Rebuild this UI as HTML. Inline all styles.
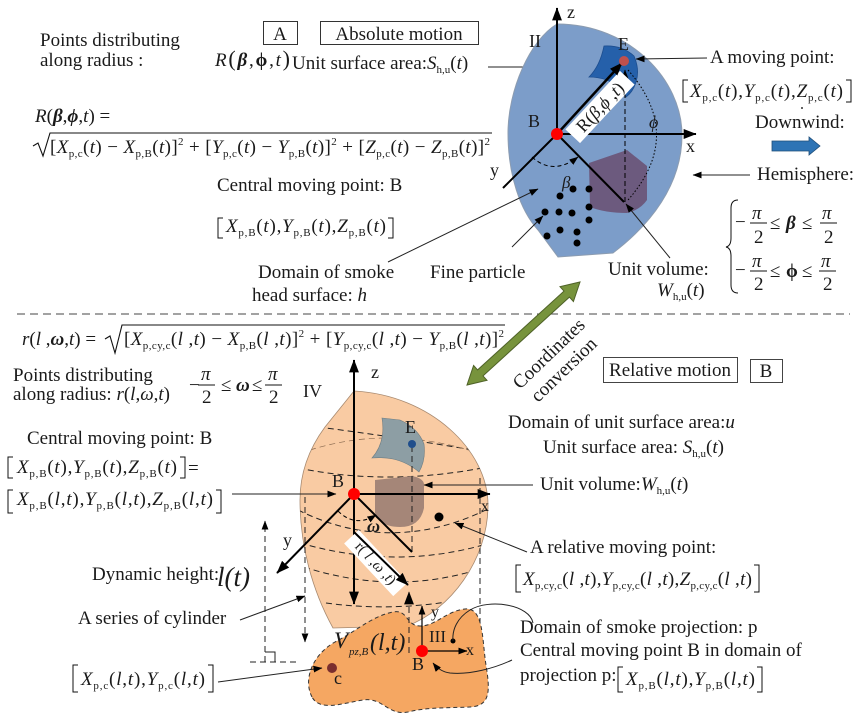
<!DOCTYPE html>
<html><head><meta charset="utf-8"><title>diagram</title>
<style>
html,body{margin:0;padding:0;background:#fff;width:857px;height:726px;overflow:hidden;}
svg{display:block;}
text{font-family:"Liberation Serif","DejaVu Serif",serif;fill:#1a1a1a;font-size:19px;}
.i{font-style:italic;}
.b{font-weight:bold;}
.s{font-size:11px;}
.ax{font-size:18px;}
</style></head><body>
<svg width="857" height="726" viewBox="0 0 857 726" xmlns="http://www.w3.org/2000/svg">
<defs>
<marker id="a" viewBox="0 0 10 10" refX="9.5" refY="5" markerWidth="9" markerHeight="9" markerUnits="userSpaceOnUse" orient="auto"><path d="M0,1.2 L10,5 L0,8.8 Z" fill="#000"/></marker>
<marker id="A" viewBox="0 0 10 10" refX="9.5" refY="5" markerWidth="13" markerHeight="13" markerUnits="userSpaceOnUse" orient="auto"><path d="M0,1.2 L10,5 L0,8.8 Z" fill="#000"/></marker>
<clipPath id="oc"><path d="M354,391 L325,427 C308,450 300,475 300,500 C300,545 312,590 333,628 L407,626 C450,610 488,560 488,505 C488,450 430,395 354,391 Z"/></clipPath>
</defs>

<!-- ============ TOP SECTION ============ -->
<text x="40" y="46">Points distributing</text>
<text x="40" y="66">along radius :</text>
<text x="215" y="66" textLength="75"><tspan class="i">R</tspan><tspan style="font-size:22px">(</tspan><tspan class="i b">β</tspan>,<tspan class="b">ϕ</tspan>,<tspan class="i">t</tspan><tspan style="font-size:22px">)</tspan></text>

<rect x="263.5" y="21.5" width="34" height="23" fill="none" stroke="#333"/>
<text x="280" y="40" text-anchor="middle">A</text>
<rect x="320.5" y="21.5" width="158" height="23" fill="none" stroke="#333"/>
<text x="399" y="40" text-anchor="middle">Absolute motion</text>

<text x="292" y="69">Unit surface area:<tspan class="i">S</tspan><tspan class="s" dy="4">h,u</tspan><tspan dy="-4">(</tspan><tspan class="i">t</tspan>)</text>
<line x1="488" y1="67" x2="577" y2="67" stroke="#222" stroke-width="1" marker-end="url(#a)"/>

<text x="35" y="122"><tspan class="i">R</tspan>(<tspan class="i b">β</tspan>,<tspan class="i b">ϕ</tspan>,<tspan class="i">t</tspan>) =</text>
<path d="M33,146 L38,143 L43,156 L50,133 L492,133" fill="none" stroke="#111" stroke-width="1.1"/>
<text x="50" y="153" textLength="440">[<tspan class="i">X</tspan><tspan class="s" dy="4">p,c</tspan><tspan dy="-4">(</tspan><tspan class="i">t</tspan>) − <tspan class="i">X</tspan><tspan class="s" dy="4">p,B</tspan><tspan dy="-4">(</tspan><tspan class="i">t</tspan>)]<tspan class="s" dy="-8">2</tspan><tspan dy="8"> + [</tspan><tspan class="i">Y</tspan><tspan class="s" dy="4">p,c</tspan><tspan dy="-4">(</tspan><tspan class="i">t</tspan>) − <tspan class="i">Y</tspan><tspan class="s" dy="4">p,B</tspan><tspan dy="-4">(</tspan><tspan class="i">t</tspan>)]<tspan class="s" dy="-8">2</tspan><tspan dy="8"> + [</tspan><tspan class="i">Z</tspan><tspan class="s" dy="4">p,c</tspan><tspan dy="-4">(</tspan><tspan class="i">t</tspan>) − <tspan class="i">Z</tspan><tspan class="s" dy="4">p,B</tspan><tspan dy="-4">(</tspan><tspan class="i">t</tspan>)]<tspan class="s" dy="-8">2</tspan></text>

<!-- hemisphere -->
<path d="M557,24 C530,40 508,90 508,133 C508,175 520,210 538,230 L558,257 L613,253 C650,225 682,185 682,135 C682,80 630,24 557,24 Z" fill="#7c9dc9" stroke="#8c9cb0" stroke-width="1"/>
<path d="M589,163 L627,150 L647,166 L647,200 Q640,210 627,213 Q605,213 590,207 Z" fill="#6c5a7e"/>
<path d="M604,46 Q622,45 634,56 Q640,70 636,82 Q633,92 626,97 Q620,86 607,80 Q598,77 589,77 Q600,66 604,46 Z" fill="#2560aa" stroke="#1d4e8f" stroke-width="0.8"/>
<g fill="#000">
<circle cx="560" cy="196" r="3.5"/><circle cx="573" cy="189" r="3.5"/><circle cx="589" cy="189" r="3.5"/>
<circle cx="545" cy="212" r="3.5"/><circle cx="559" cy="212" r="3.5"/><circle cx="572" cy="213" r="3.5"/>
<circle cx="589" cy="207" r="3.5"/><circle cx="589" cy="220" r="3.5"/><circle cx="560" cy="230" r="3.5"/>
<circle cx="577" cy="232" r="3.5"/><circle cx="547" cy="236" r="3.5"/><circle cx="577" cy="243" r="3.5"/>
</g>
<line x1="557" y1="134" x2="557" y2="8" stroke="#000" stroke-width="2" marker-end="url(#A)"/>
<line x1="557" y1="134" x2="696" y2="134" stroke="#000" stroke-width="2" marker-end="url(#A)"/>
<line x1="557" y1="134" x2="503" y2="188" stroke="#000" stroke-width="2"/>
<line x1="557" y1="134" x2="624" y2="202" stroke="#000" stroke-width="2"/>
<line x1="625" y1="202" x2="625" y2="70" stroke="#000" stroke-width="1" stroke-dasharray="5,3" marker-end="url(#a)"/>
<path d="M628,70 Q685,135 628,200" fill="none" stroke="#000" stroke-width="1" stroke-dasharray="1.5,2"/>
<path d="M532,157 Q553,176 578,157" fill="none" stroke="#000" stroke-width="1" stroke-dasharray="4,3" marker-end="url(#a)"/>
<g transform="translate(600,107) rotate(-47)"><rect x="-40" y="-10" width="80" height="20" fill="#fff"/><text x="0" y="6" text-anchor="middle" style="font-size:18px">R(<tspan class="i">β</tspan>,<tspan class="i">ϕ</tspan> ,<tspan class="i">t</tspan>)</text></g>
<line x1="557" y1="134" x2="622" y2="63" stroke="#000" stroke-width="2.5" marker-end="url(#A)"/>
<circle cx="624" cy="61" r="5" fill="#c0504d"/>
<circle cx="557" cy="134" r="6" fill="#ff0000"/>
<text x="528" y="127" class="ax">B</text>
<text x="686" y="152" class="ax">x</text>
<text x="490" y="176" class="ax">y</text>
<text x="567" y="18" class="ax">z</text>
<text x="618" y="50" class="ax">E</text>
<text x="529" y="47" class="ax">II</text>
<text x="562" y="188" class="i" style="font-size:17px">β</text>
<text x="649" y="128" class="i" style="font-size:18px">ϕ</text>

<!-- right side top -->
<text x="710" y="63">A moving point:</text>
<line x1="707" y1="58" x2="636" y2="59" stroke="#222" stroke-width="1" marker-end="url(#a)"/>
<path d="M688,80 L683,80 L683,102 L688,102" fill="none" stroke="#111" stroke-width="1"/>
<path d="M846,80 L851,80 L851,102 L846,102" fill="none" stroke="#111" stroke-width="1"/>
<text x="690" y="97" textLength="153"><tspan class="i">X</tspan><tspan class="s" dy="4">p,c</tspan><tspan dy="-4">(</tspan><tspan class="i">t</tspan>),<tspan class="i">Y</tspan><tspan class="s" dy="4">p,c</tspan><tspan dy="-4">(</tspan><tspan class="i">t</tspan>),<tspan class="i">Z</tspan><tspan class="s" dy="4">p,c</tspan><tspan dy="-4">(</tspan><tspan class="i">t</tspan>)</text>
<circle cx="802" cy="108" r="1" fill="#333"/>
<text x="755" y="128">Downwind:</text>
<polygon points="772,141 809,141 809,137 820,146 809,155 809,151 772,151" fill="#2e74b5" stroke="#1f4e79" stroke-width="0.8"/>
<text x="757" y="180">Hemisphere:</text>
<line x1="750" y1="175" x2="693" y2="175" stroke="#222" stroke-width="1" marker-end="url(#a)"/>

<path d="M738,200 Q731,200 731,208 L731,238 Q731,246 726,247 Q731,248 731,256 L731,285 Q731,293 738,293" fill="none" stroke="#111" stroke-width="1"/>
<text x="735" y="228">−</text>
<text x="752" y="219" class="i">π</text><line x1="750" y1="223" x2="767" y2="223" stroke="#111"/><text x="754" y="243">2</text>
<text x="770" y="229">≤</text>
<text x="786" y="229" class="i b">β</text>
<text x="802" y="229">≤</text>
<text x="822" y="219" class="i">π</text><line x1="820" y1="223" x2="837" y2="223" stroke="#111"/><text x="824" y="243">2</text>
<text x="735" y="276">−</text>
<text x="752" y="267" class="i">π</text><line x1="750" y1="271" x2="767" y2="271" stroke="#111"/><text x="754" y="290">2</text>
<text x="770" y="277">≤</text>
<text x="786" y="277" class="b">ϕ</text>
<text x="802" y="277">≤</text>
<text x="821" y="267" class="i">π</text><line x1="819" y1="271" x2="836" y2="271" stroke="#111"/><text x="823" y="290">2</text>

<!-- middle top labels -->
<text x="217" y="191">Central moving point: B</text>
<path d="M223,218 L218,218 L218,238 L223,238" fill="none" stroke="#111"/>
<path d="M388,218 L393,218 L393,238 L388,238" fill="none" stroke="#111"/>
<text x="226" y="232" textLength="160"><tspan class="i">X</tspan><tspan class="s" dy="4">p,B</tspan><tspan dy="-4">(</tspan><tspan class="i">t</tspan>),<tspan class="i">Y</tspan><tspan class="s" dy="4">p,B</tspan><tspan dy="-4">(</tspan><tspan class="i">t</tspan>),<tspan class="i">Z</tspan><tspan class="s" dy="4">p,B</tspan><tspan dy="-4">(</tspan><tspan class="i">t</tspan>)</text>
<text x="258" y="278">Domain of smoke</text>
<text x="252" y="301">head surface: <tspan class="i">h</tspan></text>
<line x1="388" y1="262" x2="538" y2="189" stroke="#222" stroke-width="1" marker-end="url(#a)"/>
<text x="430" y="278">Fine particle</text>
<line x1="512" y1="247" x2="543" y2="216" stroke="#222" stroke-width="1" marker-end="url(#a)"/>
<text x="608" y="275">Unit volume:</text>
<text x="657" y="296"><tspan class="i">W</tspan><tspan class="s" dy="4">h,u</tspan><tspan dy="-4">(</tspan><tspan class="i">t</tspan>)</text>
<line x1="670" y1="258" x2="626" y2="204" stroke="#222" stroke-width="1" marker-end="url(#a)"/>

<!-- separator -->
<line x1="17" y1="314" x2="850" y2="314" stroke="#444" stroke-width="1" stroke-dasharray="8,5"/>

<!-- green double arrow -->
<polygon points="580,282 573.4,301.5 569.4,297.1 483,375.9 487,380.3 467,385 473.6,365.5 477.6,369.9 564,291.1 560,286.7" fill="#77933c" stroke="#4f6228" stroke-width="1"/>
<text x="553" y="358" text-anchor="middle" transform="rotate(-44 553 358)">Coordinates</text>
<text x="568" y="374" text-anchor="middle" transform="rotate(-44 568 374)">conversion</text>

<!-- ============ BOTTOM SECTION ============ -->
<text x="22" y="345"><tspan class="i">r</tspan>(<tspan class="i">l</tspan> ,<tspan class="i b">ω</tspan>,<tspan class="i">t</tspan>) =</text>
<path d="M105,339 L110,336 L115,353 L122,325 L505,325" fill="none" stroke="#111" stroke-width="1.1"/>
<text x="124" y="345" textLength="380">[<tspan class="i">X</tspan><tspan class="s" dy="4">p,cy,c</tspan><tspan dy="-4">(</tspan><tspan class="i">l</tspan> ,<tspan class="i">t</tspan>) − <tspan class="i">X</tspan><tspan class="s" dy="4">p,B</tspan><tspan dy="-4">(</tspan><tspan class="i">l</tspan> ,<tspan class="i">t</tspan>)]<tspan class="s" dy="-8">2</tspan><tspan dy="8"> + [</tspan><tspan class="i">Y</tspan><tspan class="s" dy="4">p,cy,c</tspan><tspan dy="-4">(</tspan><tspan class="i">l</tspan> ,<tspan class="i">t</tspan>) − <tspan class="i">Y</tspan><tspan class="s" dy="4">p,B</tspan><tspan dy="-4">(</tspan><tspan class="i">l</tspan> ,<tspan class="i">t</tspan>)]<tspan class="s" dy="-8">2</tspan></text>

<text x="13" y="381">Points distributing</text>
<text x="13" y="400">along radius:  <tspan class="i">r</tspan>(<tspan class="i">l</tspan>,<tspan class="i">ω</tspan>,<tspan class="i">t</tspan>)</text>
<text x="189" y="391">−</text>
<text x="201" y="380" class="i">π</text><line x1="198" y1="385" x2="215" y2="385" stroke="#111"/><text x="202" y="403">2</text>
<text x="221" y="391">≤</text>
<text x="236" y="391" class="i b">ω</text>
<text x="252" y="391">≤</text>
<text x="268" y="380" class="i">π</text><line x1="265" y1="385" x2="282" y2="385" stroke="#111"/><text x="269" y="403">2</text>
<text x="303" y="397" class="ax">IV</text>

<rect x="603.5" y="357.5" width="134" height="25" fill="none" stroke="#444"/>
<text x="670" y="376" text-anchor="middle">Relative motion</text>
<rect x="750.5" y="359.5" width="32" height="23" fill="none" stroke="#444"/>
<text x="766" y="377" text-anchor="middle">B</text>

<text x="508" y="428">Domain of unit surface area:<tspan class="i">u</tspan></text>
<text x="543" y="453">Unit surface area:  <tspan class="i">S</tspan><tspan class="s" dy="4">h,u</tspan><tspan dy="-4">(</tspan><tspan class="i">t</tspan>)</text>
<text x="540" y="490">Unit volume:<tspan class="i">W</tspan><tspan class="s" dy="4">h,u</tspan><tspan dy="-4">(</tspan><tspan class="i">t</tspan>)</text>

<text x="27" y="444">Central moving point: B</text>
<path d="M13,457 L8,457 L8,478 L13,478" fill="none" stroke="#111"/>
<path d="M180,457 L185,457 L185,478 L180,478" fill="none" stroke="#111"/>
<text x="17" y="473" textLength="160"><tspan class="i">X</tspan><tspan class="s" dy="4">p,B</tspan><tspan dy="-4">(</tspan><tspan class="i">t</tspan>),<tspan class="i">Y</tspan><tspan class="s" dy="4">p,B</tspan><tspan dy="-4">(</tspan><tspan class="i">t</tspan>),<tspan class="i">Z</tspan><tspan class="s" dy="4">p,B</tspan><tspan dy="-4">(</tspan><tspan class="i">t</tspan>)</text>
<text x="188" y="474">=</text>
<path d="M13,490 L8,490 L8,513 L13,513" fill="none" stroke="#111"/>
<path d="M216,490 L221,490 L221,513 L216,513" fill="none" stroke="#111"/>
<text x="17" y="505" textLength="196"><tspan class="i">X</tspan><tspan class="s" dy="4">p,B</tspan><tspan dy="-4">(</tspan><tspan class="i">l</tspan>,<tspan class="i">t</tspan>),<tspan class="i">Y</tspan><tspan class="s" dy="4">p,B</tspan><tspan dy="-4">(</tspan><tspan class="i">l</tspan>,<tspan class="i">t</tspan>),<tspan class="i">Z</tspan><tspan class="s" dy="4">p,B</tspan><tspan dy="-4">(</tspan><tspan class="i">l</tspan>,<tspan class="i">t</tspan>)</text>

<text x="92" y="580">Dynamic height:</text>
<text x="217" y="586" class="i" style="font-size:27px">l(t)</text>
<text x="78" y="624">A series of cylinder</text>
<path d="M78,665 L73,665 L73,692 L78,692" fill="none" stroke="#111"/>
<path d="M208,665 L213,665 L213,692 L208,692" fill="none" stroke="#111"/>
<text x="81" y="685" textLength="124"><tspan class="i">X</tspan><tspan class="s" dy="4">p,c</tspan><tspan dy="-4">(</tspan><tspan class="i">l</tspan>,<tspan class="i">t</tspan>),<tspan class="i">Y</tspan><tspan class="s" dy="4">p,c</tspan><tspan dy="-4">(</tspan><tspan class="i">l</tspan>,<tspan class="i">t</tspan>)</text>

<!-- lower orange body -->
<path d="M354,391 L325,427 C308,450 300,475 300,500 C300,545 312,590 333,628 L407,626 C450,610 488,560 488,505 C488,450 430,395 354,391 Z" fill="#f9cba3" stroke="#a88a70" stroke-width="0.8"/>
<g clip-path="url(#oc)" fill="none" stroke="#222" stroke-width="1" stroke-dasharray="6,4">
<path d="M318,427 Q397,437 485,452"/>
<path d="M310,450 Q390,425 475,452" stroke="#8a6a50" stroke-width="0.7"/>
<path d="M298,468 Q392,487 492,466"/>
<path d="M298,510 Q393,557 492,507"/>
<path d="M300,543 Q397,571 490,543"/>
<path d="M304,567 Q397,597 486,567"/>
<path d="M326,603 Q390,612 460,600"/>
</g>
<path d="M382,418 L400,420 Q418,428 424,444 Q426,460 419,472 Q407,462 393,459 Q382,457 372,458 Q386,442 382,418 Z" fill="#8d9ea4" stroke="#6d7d83" stroke-width="0.6"/>
<path d="M375,480 L412,476 Q423,478 424,484 L424,508 Q420,527 400,527 Q380,527 375,513 Z" fill="#a58678"/>
<circle cx="439" cy="517" r="4.5" fill="#000"/>

<!-- dashed verticals -->
<g fill="none" stroke="#222" stroke-width="1" stroke-dasharray="6,4">
<line x1="265" y1="662" x2="265" y2="521" marker-end="url(#a)"/>
<line x1="250" y1="662" x2="300" y2="662"/>
<line x1="305" y1="497" x2="305" y2="642" marker-end="url(#a)"/>
<line x1="480" y1="478" x2="480" y2="652" marker-end="url(#a)"/>
<line x1="412" y1="446" x2="412" y2="552"/>
</g>
<path d="M265,652 L275,652 L275,662" fill="none" stroke="#222" stroke-width="1"/>

<!-- projection -->
<path d="M312,697 C303,680 312,655 335,642 C355,632 372,616 393,612 C408,609 406,626 420,626 C436,626 446,611 465,609 C484,607 482,640 486,665 C490,690 491,706 470,707 C450,708 428,707 408,712 C388,716 383,697 363,700 C343,703 320,712 312,697 Z" fill="#f5a762" stroke="#333" stroke-width="1" stroke-dasharray="4,3"/>
<line x1="409" y1="653" x2="409" y2="592" stroke="#222" stroke-width="1" stroke-dasharray="6,4" marker-end="url(#A)"/>

<!-- lower axes -->
<line x1="354" y1="494" x2="354" y2="360" stroke="#000" stroke-width="2" marker-end="url(#A)"/>
<line x1="354" y1="494" x2="354" y2="604" stroke="#000" stroke-width="2" marker-end="url(#A)"/>
<line x1="354" y1="494" x2="490" y2="494" stroke="#000" stroke-width="2" marker-end="url(#A)"/>
<line x1="354" y1="494" x2="277" y2="573" stroke="#000" stroke-width="2" marker-end="url(#A)"/>
<line x1="354" y1="494" x2="412" y2="552" stroke="#000" stroke-width="2"/>
<path d="M338,511 Q355,528 376,515" fill="none" stroke="#000" stroke-width="1" stroke-dasharray="4,3" marker-end="url(#a)"/>
<g transform="translate(376,563) rotate(47)"><rect x="-36" y="-10" width="72" height="20" fill="#fff"/><text x="0" y="5" text-anchor="middle" style="font-size:15px">r( <tspan class="i">l</tspan> ,<tspan class="i">ω</tspan> ,<tspan class="i">t</tspan>)</text></g>
<line x1="354" y1="532" x2="408" y2="585" stroke="#000" stroke-width="2" marker-end="url(#A)"/>
<circle cx="412" cy="444" r="4" fill="#1f4e8c"/>
<circle cx="354" cy="494" r="6" fill="#ff0000"/>
<text x="332" y="487" class="ax">B</text>
<text x="405" y="433" class="ax">E</text>
<text x="481" y="511" style="font-size:16px">x</text>
<text x="367" y="532" class="i b" style="font-size:18px">ω</text>
<text x="283" y="546" class="ax">y</text>
<text x="371" y="378" class="ax">z</text>

<!-- projection axes and labels -->
<line x1="422" y1="651" x2="422" y2="606" stroke="#000" stroke-width="1.2" marker-end="url(#a)"/>
<line x1="422" y1="651" x2="467" y2="651" stroke="#000" stroke-width="1.2" marker-end="url(#a)"/>
<circle cx="422" cy="651" r="6" fill="#ff0000"/>
<circle cx="453" cy="641" r="2.5" fill="#000"/>
<circle cx="332" cy="668" r="5" fill="#7a2e2e"/>
<text x="412" y="670" class="ax">B</text>
<text x="429" y="642" style="font-size:17px">III</text>
<text x="431" y="617" style="font-size:16px">y</text>
<text x="466" y="655" style="font-size:16px">x</text>
<text x="334" y="684" class="ax">c</text>
<text x="334" y="648" class="i" style="font-size:23px">V</text>
<text x="349" y="655" class="i" style="font-size:11px">pz,B</text>
<text x="370" y="650" class="i" style="font-size:24px">(l,t)</text>

<!-- lower connectors -->
<line x1="232" y1="494" x2="336" y2="494" stroke="#222" stroke-width="1" marker-end="url(#a)"/>
<line x1="533" y1="485" x2="424" y2="485" stroke="#222" stroke-width="1" marker-end="url(#a)"/>
<line x1="527" y1="552" x2="455" y2="523" stroke="#222" stroke-width="1" marker-end="url(#a)"/>
<line x1="240" y1="620" x2="305" y2="596" stroke="#222" stroke-width="1" marker-end="url(#a)"/>
<line x1="218" y1="682" x2="322" y2="668" stroke="#222" stroke-width="1" marker-end="url(#a)"/>
<path d="M533,623 C530,605 490,598 470,610 C457,618 452,630 453,641" fill="none" stroke="#222" stroke-width="1"/>
<path d="M512,660 C495,668 470,675 450,673 C442,672 437,668 433,663" fill="none" stroke="#222" stroke-width="1" marker-end="url(#a)"/>

<!-- lower right labels -->
<text x="530" y="553">A relative moving point:</text>
<path d="M521,565 L516,565 L516,592 L521,592" fill="none" stroke="#111"/>
<path d="M754,565 L759,565 L759,592 L754,592" fill="none" stroke="#111"/>
<text x="523" y="585" textLength="229"><tspan class="i">X</tspan><tspan class="s" dy="4">p,cy,c</tspan><tspan dy="-4">(</tspan><tspan class="i">l</tspan> ,<tspan class="i">t</tspan>),<tspan class="i">Y</tspan><tspan class="s" dy="4">p,cy,c</tspan><tspan dy="-4">(</tspan><tspan class="i">l</tspan> ,<tspan class="i">t</tspan>),<tspan class="i">Z</tspan><tspan class="s" dy="4">p,cy,c</tspan><tspan dy="-4">(</tspan><tspan class="i">l</tspan> ,<tspan class="i">t</tspan>)</text>
<text x="520" y="633">Domain of smoke projection: p</text>
<text x="520" y="656">Central moving point B in domain of</text>
<text x="520" y="681">projection p:</text>
<path d="M623,667 L618,667 L618,692 L623,692" fill="none" stroke="#111"/>
<path d="M757,667 L762,667 L762,692 L757,692" fill="none" stroke="#111"/>
<text x="626" y="685" textLength="129"><tspan class="i">X</tspan><tspan class="s" dy="4">p,B</tspan><tspan dy="-4">(</tspan><tspan class="i">l</tspan>,<tspan class="i">t</tspan>),<tspan class="i">Y</tspan><tspan class="s" dy="4">p,B</tspan><tspan dy="-4">(</tspan><tspan class="i">l</tspan>,<tspan class="i">t</tspan>)</text>

</svg>
</body></html>
